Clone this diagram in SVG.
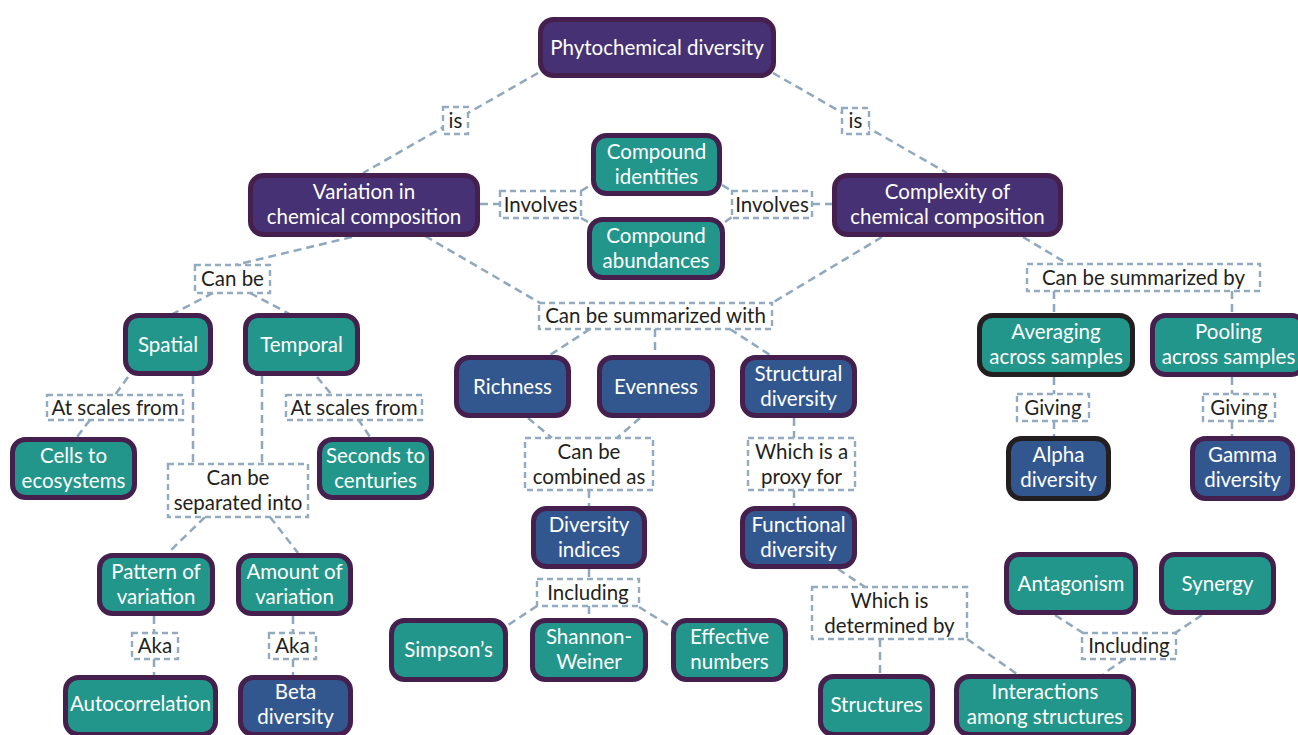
<svg xmlns="http://www.w3.org/2000/svg" width="1298" height="735" viewBox="0 0 1298 735">
<style>
.n rect{stroke:#45204f;stroke-width:5}
.p rect{fill:#453173}
.t rect{fill:#22968a}
.b rect{fill:#32578f}
.k rect{stroke:#231f20}
.n text{font-family:Lato,"Open Sans","DejaVu Sans",sans-serif;font-size:20.5px;fill:#ffffff;text-anchor:middle}
.l rect{fill:#ffffff;stroke:#93abc0;stroke-width:2.4;stroke-dasharray:6 4}
.l text{font-family:Lato,"Open Sans","DejaVu Sans",sans-serif;font-size:20.5px;fill:#231f20;text-anchor:middle}
#connectors line{stroke:#8fa8bd;stroke-width:2.5;stroke-dasharray:8 5;fill:none}
</style>
<rect width="1298" height="735" fill="#ffffff"/>
<g id="connectors">
<line x1="538" y1="73" x2="363" y2="173"/>
<line x1="773" y1="73" x2="947" y2="173"/>
<line x1="480" y1="204" x2="500" y2="204"/>
<line x1="581" y1="191" x2="591" y2="185"/>
<line x1="581" y1="218" x2="590" y2="223"/>
<line x1="812" y1="204" x2="832" y2="204"/>
<line x1="722" y1="185" x2="732" y2="191"/>
<line x1="725" y1="222" x2="732" y2="217"/>
<line x1="425" y1="236" x2="540" y2="303"/>
<line x1="882" y1="237" x2="772" y2="303"/>
<line x1="590" y1="329" x2="550" y2="355"/>
<line x1="655" y1="329" x2="655" y2="355"/>
<line x1="730" y1="329" x2="770" y2="355"/>
<line x1="528" y1="418" x2="552" y2="438"/>
<line x1="640" y1="418" x2="617" y2="438"/>
<line x1="589" y1="490" x2="589" y2="507"/>
<line x1="794" y1="418" x2="794" y2="438"/>
<line x1="794" y1="490" x2="794" y2="507"/>
<line x1="589" y1="569" x2="589" y2="579"/>
<line x1="537" y1="606" x2="505" y2="627"/>
<line x1="589" y1="606" x2="589" y2="619"/>
<line x1="639" y1="607" x2="673" y2="628"/>
<line x1="838" y1="569" x2="865" y2="587"/>
<line x1="880" y1="639" x2="880" y2="675"/>
<line x1="967" y1="639" x2="1017" y2="674"/>
<line x1="1055" y1="615" x2="1083" y2="633"/>
<line x1="1202" y1="615" x2="1175" y2="633"/>
<line x1="1125" y1="659" x2="1103" y2="674"/>
<line x1="1023" y1="237" x2="1068" y2="264"/>
<line x1="1054" y1="291" x2="1054" y2="314"/>
<line x1="1232" y1="291" x2="1232" y2="314"/>
<line x1="1054" y1="377" x2="1054" y2="394"/>
<line x1="1054" y1="421" x2="1054" y2="437"/>
<line x1="1232" y1="377" x2="1232" y2="394"/>
<line x1="1232" y1="421" x2="1232" y2="437"/>
<line x1="352" y1="237" x2="235" y2="265"/>
<line x1="213" y1="293" x2="165" y2="318"/>
<line x1="250" y1="293" x2="297" y2="318"/>
<line x1="128" y1="377" x2="115" y2="395"/>
<line x1="90" y1="420" x2="77" y2="437"/>
<line x1="317" y1="377" x2="332" y2="395"/>
<line x1="358" y1="419" x2="370" y2="437"/>
<line x1="193" y1="376" x2="193" y2="464"/>
<line x1="262" y1="376" x2="262" y2="464"/>
<line x1="205" y1="517" x2="168" y2="553"/>
<line x1="270" y1="517" x2="298" y2="553"/>
<line x1="154" y1="616" x2="154" y2="633"/>
<line x1="154" y1="659" x2="154" y2="675"/>
<line x1="293" y1="616" x2="293" y2="633"/>
<line x1="293" y1="659" x2="293" y2="675"/>
</g>
<g id="labels">
<g id="l-is1" class="l"><rect x="443" y="107" width="25" height="27"/><text x="455.5" y="127.5">is</text></g>
<g id="l-is2" class="l"><rect x="842" y="108" width="27" height="26"/><text x="855.5" y="128">is</text></g>
<g id="l-inv1" class="l"><rect x="500" y="191" width="81" height="27"/><text x="540.5" y="211.5">Involves</text></g>
<g id="l-inv2" class="l"><rect x="732" y="191" width="80" height="27"/><text x="772" y="211.5">Involves</text></g>
<g id="l-sumwith" class="l"><rect x="539" y="303" width="233" height="26"/><text x="655.5" y="323">Can be summarized with</text></g>
<g id="l-canbe" class="l"><rect x="195" y="265" width="75" height="28"/><text x="232.5" y="286">Can be</text></g>
<g id="l-scales1" class="l"><rect x="47" y="395" width="136" height="25"/><text x="115" y="414.5">At scales from</text></g>
<g id="l-scales2" class="l"><rect x="286" y="395" width="136" height="25"/><text x="354" y="414.5">At scales from</text></g>
<g id="l-sep" class="l"><rect x="168" y="464" width="140" height="53"/><text x="238" y="485">Can be</text><text x="238" y="510">separated into</text></g>
<g id="l-comb" class="l"><rect x="525" y="438" width="128" height="52"/><text x="589" y="458.5">Can be</text><text x="589" y="483.5">combined as</text></g>
<g id="l-proxy" class="l"><rect x="748" y="438" width="107" height="52"/><text x="801.5" y="458.5">Which is a</text><text x="801.5" y="483.5">proxy for</text></g>
<g id="l-incl1" class="l"><rect x="537" y="579" width="102" height="27"/><text x="588" y="599.5">Including</text></g>
<g id="l-det" class="l"><rect x="812" y="587" width="155" height="52"/><text x="889.5" y="607.5">Which is</text><text x="889.5" y="632.5">determined by</text></g>
<g id="l-incl2" class="l"><rect x="1082" y="633" width="94" height="26"/><text x="1129" y="653">Including</text></g>
<g id="l-sumby" class="l"><rect x="1027" y="264" width="233" height="27"/><text x="1143.5" y="284.5">Can be summarized by</text></g>
<g id="l-giv1" class="l"><rect x="1017" y="394" width="72" height="27"/><text x="1053" y="414.5">Giving</text></g>
<g id="l-giv2" class="l"><rect x="1203" y="394" width="72" height="27"/><text x="1239" y="414.5">Giving</text></g>
<g id="l-aka1" class="l"><rect x="132" y="633" width="46" height="26"/><text x="155" y="653">Aka</text></g>
<g id="l-aka2" class="l"><rect x="269" y="633" width="47" height="26"/><text x="292.5" y="653">Aka</text></g>
</g>
<g id="nodes">
<g id="phyto" class="n p"><rect x="540.5" y="19.5" width="233" height="56" rx="13"/><text x="657" y="54.5">Phytochemical diversity</text></g>
<g id="variation" class="n p"><rect x="250.5" y="175.5" width="227" height="59" rx="13"/><text x="364" y="199">Variation in</text><text x="364" y="224">chemical composition</text></g>
<g id="complexity" class="n p"><rect x="834.5" y="175.5" width="226" height="59" rx="13"/><text x="947.5" y="199">Complexity of</text><text x="947.5" y="224">chemical composition</text></g>
<g id="identities" class="n t"><rect x="593.5" y="135.5" width="126" height="58" rx="13"/><text x="656.5" y="158.5">Compound</text><text x="656.5" y="183.5">identities</text></g>
<g id="abundances" class="n t"><rect x="589.5" y="219.5" width="133" height="58" rx="13"/><text x="656" y="242.5">Compound</text><text x="656" y="267.5">abundances</text></g>
<g id="spatial" class="n t"><rect x="125.5" y="315.5" width="85" height="58" rx="13"/><text x="168" y="351.5">Spatial</text></g>
<g id="temporal" class="n t"><rect x="245.5" y="315.5" width="112" height="58" rx="13"/><text x="301.5" y="351.5">Temporal</text></g>
<g id="cells" class="n t"><rect x="12.5" y="439.5" width="122" height="58" rx="13"/><text x="73.5" y="462.5">Cells to</text><text x="73.5" y="487.5">ecosystems</text></g>
<g id="seconds" class="n t"><rect x="319.5" y="439.5" width="112" height="58" rx="13"/><text x="375.5" y="462.5">Seconds to</text><text x="375.5" y="487.5">centuries</text></g>
<g id="pattern" class="n t"><rect x="99.5" y="555.5" width="113" height="58" rx="13"/><text x="156" y="578.5">Pattern of</text><text x="156" y="603.5">variation</text></g>
<g id="amount" class="n t"><rect x="238.5" y="555.5" width="112" height="58" rx="13"/><text x="294.5" y="578.5">Amount of</text><text x="294.5" y="603.5">variation</text></g>
<g id="autocorr" class="n t"><rect x="65.5" y="677.5" width="150" height="57" rx="13"/><text x="140.5" y="711">Autocorrelation</text></g>
<g id="beta" class="n b"><rect x="240.5" y="677.5" width="110" height="57" rx="13"/><text x="295.5" y="698.5">Beta</text><text x="295.5" y="723.5">diversity</text></g>
<g id="richness" class="n b"><rect x="456.5" y="357.5" width="112" height="58" rx="13"/><text x="512.5" y="393.5">Richness</text></g>
<g id="evenness" class="n b"><rect x="599.5" y="357.5" width="113" height="58" rx="13"/><text x="656" y="393.5">Evenness</text></g>
<g id="structural" class="n b"><rect x="742.5" y="357.5" width="112" height="58" rx="13"/><text x="798.5" y="380.5">Structural</text><text x="798.5" y="405.5">diversity</text></g>
<g id="indices" class="n b"><rect x="533.5" y="508.5" width="111" height="58" rx="13"/><text x="589" y="531.5">Diversity</text><text x="589" y="556.5">indices</text></g>
<g id="functional" class="n b"><rect x="742.5" y="508.5" width="112" height="58" rx="13"/><text x="798.5" y="531.5">Functional</text><text x="798.5" y="556.5">diversity</text></g>
<g id="simpson" class="n t"><rect x="391.5" y="620.5" width="114" height="59" rx="13"/><text x="448.5" y="657">Simpson’s</text></g>
<g id="shannon" class="n t"><rect x="532.5" y="620.5" width="113" height="59" rx="13"/><text x="589" y="644">Shannon-</text><text x="589" y="669">Weiner</text></g>
<g id="effective" class="n t"><rect x="673.5" y="620.5" width="112" height="59" rx="13"/><text x="729.5" y="644">Effective</text><text x="729.5" y="669">numbers</text></g>
<g id="structures" class="n t"><rect x="820.5" y="676.5" width="112" height="58" rx="13"/><text x="876.5" y="712">Structures</text></g>
<g id="interactions" class="n t"><rect x="956.5" y="676.5" width="177" height="58" rx="13"/><text x="1045" y="698.5">Interactions</text><text x="1045" y="723.5">among structures</text></g>
<g id="antagonism" class="n t"><rect x="1006.5" y="554.5" width="129" height="58" rx="13"/><text x="1071" y="590.5">Antagonism</text></g>
<g id="synergy" class="n t"><rect x="1161.5" y="554.5" width="112" height="58" rx="13"/><text x="1217.5" y="590.5">Synergy</text></g>
<g id="averaging" class="n t k"><rect x="979.5" y="315.5" width="153" height="59" rx="13"/><text x="1056" y="338.5">Averaging</text><text x="1056" y="363.5">across samples</text></g>
<g id="pooling" class="n t"><rect x="1152.5" y="315.5" width="152" height="59" rx="13"/><text x="1228.5" y="338.5">Pooling</text><text x="1228.5" y="363.5">across samples</text></g>
<g id="alpha" class="n b k"><rect x="1008.5" y="438.5" width="100" height="60" rx="13"/><text x="1058.5" y="462">Alpha</text><text x="1058.5" y="487">diversity</text></g>
<g id="gamma" class="n b"><rect x="1192.5" y="438.5" width="100" height="60" rx="13"/><text x="1242.5" y="462">Gamma</text><text x="1242.5" y="487">diversity</text></g>
</g>
</svg>
